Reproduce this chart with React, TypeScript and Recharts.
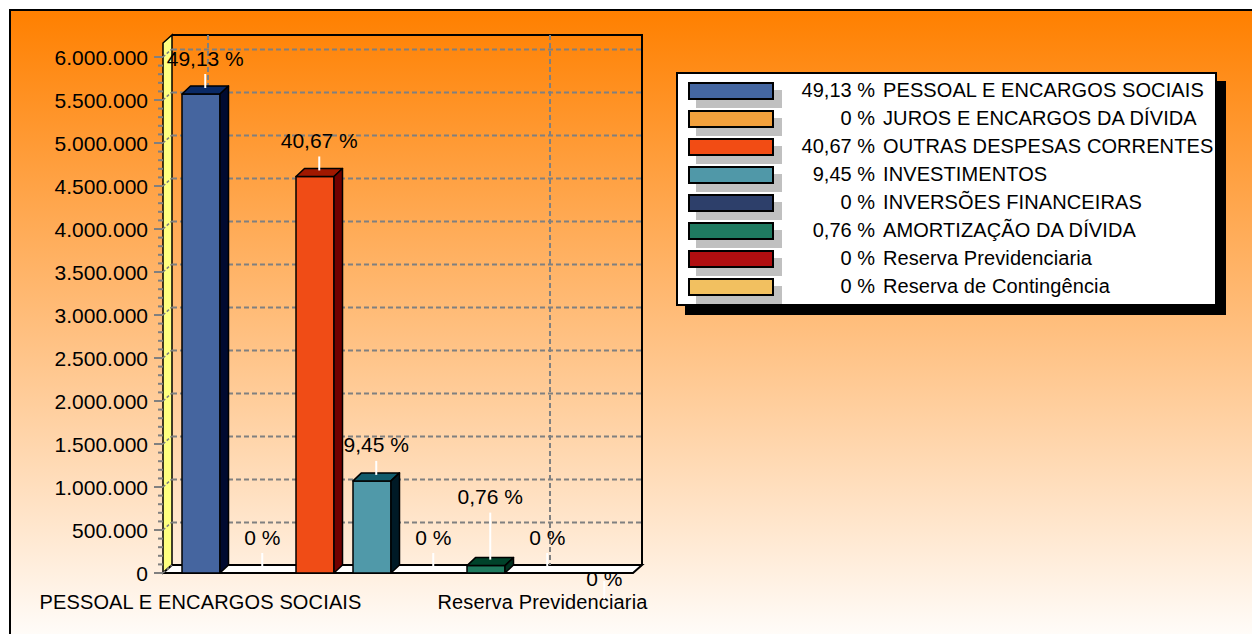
import React from "react";
import { BarChart, Bar, XAxis, YAxis, CartesianGrid, LabelList } from "recharts";

const categories = [
  "PESSOAL E ENCARGOS SOCIAIS",
  "JUROS E ENCARGOS DA DÍVIDA",
  "OUTRAS DESPESAS CORRENTES",
  "INVESTIMENTOS",
  "INVERSÕES FINANCEIRAS",
  "AMORTIZAÇÃO DA DÍVIDA",
  "Reserva Previdenciaria",
  "Reserva de Contingência",
];
const values = [5570000, 0, 4611000, 1071000, 0, 86000, 0, 0];
const percents = [49.13, 0, 40.67, 9.45, 0, 0.76, 0, 0];
const yTicks = [
  0, 500000, 1000000, 1500000, 2000000, 2500000, 3000000,
  3500000, 4000000, 4500000, 5000000, 5500000, 6000000,
];

const legendColors = ["#4466A0", "#F2A03C", "#F24C14", "#5098A8", "#2D3F6A", "#1F7A60", "#B00E10", "#F2C060"];
const frontColors = ["#45659F", "#F2A03C", "#F04C16", "#5099A9", "#2D3F6A", "#1F7A5E", "#B00E10", "#F2C060"];
const topColors = ["#0A2A66", "#A06010", "#A01800", "#125C6C", "#101A38", "#00422A", "#600000", "#A08020"];
const sideColors = ["#000A30", "#603000", "#700000", "#001A26", "#000820", "#00301E", "#400000", "#604810"];

// layout
const W = 1252;
const H = 634;
const PLOT_LEFT = 172;
const PLOT_RIGHT = 628;
const PLOT_TOP = 57;
const PLOT_BOTTOM = 573;
const WALL_X = 163; // front edge of left wall
const DEPTH_X = 9;
const DEPTH_Y = 8;
const WALL_TOP = 35;
const BAR_DX = 8.5;
const BAR_DY = 8;
const FONT = "'Liberation Sans', Arial, sans-serif";

const minorTicks = yTicks
  .slice(0, -1)
  .flatMap((t, i) => [1, 2, 3, 4].map((k) => t + (k * (yTicks[i + 1] - t)) / 5));
const allTicks = [...yTicks, ...minorTicks].sort((a, b) => a - b);

const data = categories.map((name, i) => ({ name, value: values[i], idx: i }));

const fmtNum = (v: number) => String(Math.round(v)).replace(/\B(?=(\d{3})+(?!\d))/g, ".");
const fmtPct = (p: number) => (p === 0 ? "0" : p.toFixed(2).replace(".", ","));

function YTick(p: any) {
  const v = p.payload.value;
  const y = p.y;
  if (!yTicks.includes(v)) {
    return <line x1={WALL_X - 5} x2={WALL_X} y1={y} y2={y} stroke="#808080" strokeWidth={2} />;
  }
  return (
    <g>
      <line x1={WALL_X - 9} x2={WALL_X} y1={y} y2={y} stroke="#808080" strokeWidth={2} />
      <line x1={WALL_X} y1={y} x2={WALL_X + DEPTH_X} y2={y - DEPTH_Y} stroke="#808080" strokeWidth={1.5} strokeDasharray="3 2" />
      <text x={WALL_X - 15} y={y} dy="0.36em" textAnchor="end" fontSize={21} fontFamily={FONT} fill="#000">
        {fmtNum(v)}
      </text>
    </g>
  );
}

function XTick(p: any) {
  return (
    <text x={p.x} y={p.y} dy={28} textAnchor="middle" fontSize={20} letterSpacing={0.15} fontFamily={FONT} fill="#000">
      {p.payload.value}
    </text>
  );
}

function Bar3D(p: any) {
  const { x, y, width, height } = p;
  const i = p.payload?.idx ?? p.index;
  if (!height || height <= 0) return <g />;
  const dx = BAR_DX;
  const dy = BAR_DY;
  return (
    <g stroke="#000" strokeWidth={1.5} strokeLinejoin="round">
      <rect x={x} y={y} width={width} height={height} fill={frontColors[i]} />
      <polygon
        points={`${x},${y} ${x + dx},${y - dy} ${x + width + dx},${y - dy} ${x + width},${y}`}
        fill={topColors[i]}
      />
      <polygon
        points={`${x + width},${y} ${x + width + dx},${y - dy} ${x + width + dx},${y + height - dy} ${x + width},${y + height}`}
        fill={sideColors[i]}
      />
    </g>
  );
}

function PctLabel(p: any) {
  const vb = p.viewBox || p;
  const { x, y, width } = vb;
  const i = typeof p.value === "number" ? p.value : p.index;
  const cx = x + width / 2 + BAR_DX / 2;
  const top = y - BAR_DY / 2;
  const txt = `${fmtPct(percents[i])} %`;
  const text = (ty: number) => (
    <text x={cx} y={ty} dy="0.36em" textAnchor="middle" fontSize={21} fontFamily={FONT} fill="#000">
      {txt}
    </text>
  );
  if (i === categories.length - 1) {
    // last label is dropped below the floor
    return (
      <g>
        <line x1={cx} x2={cx} y1={top + 12} y2={top + 30} stroke="#fff" strokeWidth={2} />
        {text(top + 9)}
      </g>
    );
  }
  const lift = i === 5 ? 63 : 30;
  return (
    <g>
      <line x1={cx} x2={cx} y1={top - 2} y2={top - lift + 14} stroke="#fff" strokeWidth={2} />
      {text(top - lift - 2)}
    </g>
  );
}

function HGrid(p: any) {
  const { x, width, y1 } = p;
  return (
    <line
      x1={x}
      x2={x + width + DEPTH_X + 5}
      y1={y1 - 7.5}
      y2={y1 - 7.5}
      stroke="#808080"
      strokeWidth={2}
      strokeDasharray="5 3"
    />
  );
}

function VGrid(p: any) {
  const { x, width, x1 } = p;
  if (Math.abs(x1 - x) < 1 || Math.abs(x1 - (x + width)) < 1) return <g />;
  const bw = width / categories.length;
  const k = Math.floor((x1 - x) / bw + 0.01);
  const cx = x + (k + 0.5) * bw + 7.5;
  return (
    <line
      x1={cx}
      x2={cx}
      y1={WALL_TOP}
      y2={PLOT_BOTTOM - DEPTH_Y}
      stroke="#808080"
      strokeWidth={2}
      strokeDasharray="5 3"
    />
  );
}

function Walls() {
  const bx = DEPTH_X;
  const by = DEPTH_Y;
  const frontRight = PLOT_RIGHT + 5;
  return (
    <svg width={W} height={H} style={{ position: "absolute", left: 0, top: 0 }}>
      {/* back wall outline */}
      <polyline
        points={`${WALL_X + bx},${WALL_TOP} ${frontRight + bx},${WALL_TOP} ${frontRight + bx},${PLOT_BOTTOM - by}`}
        fill="none"
        stroke="#000"
        strokeWidth={2}
      />
      {/* left wall */}
      <polygon
        points={`${WALL_X},${PLOT_BOTTOM} ${WALL_X + bx},${PLOT_BOTTOM - by} ${WALL_X + bx},${WALL_TOP} ${WALL_X},${WALL_TOP + by}`}
        fill="#FFFF80"
        stroke="#000"
        strokeWidth={1.5}
      />
      {/* floor */}
      <polygon
        points={`${WALL_X},${PLOT_BOTTOM} ${WALL_X + bx},${PLOT_BOTTOM - by} ${frontRight + bx},${PLOT_BOTTOM - by} ${frontRight},${PLOT_BOTTOM}`}
        fill="#FFFFFF"
        stroke="#000"
        strokeWidth={2}
      />
    </svg>
  );
}

function LegendBox() {
  return (
    <div
      style={{
        position: "absolute",
        left: 676,
        top: 72,
        width: 541,
        height: 234,
        boxSizing: "border-box",
        background: "#fff",
        border: "2px solid #000",
        boxShadow: "9px 9px 0 #000",
        fontFamily: FONT,
        fontSize: 20,
        color: "#000",
      }}
    >
      {categories.map((c, i) => (
        <div key={c} style={{ position: "absolute", left: 0, top: 2 + i * 28, height: 28, width: "100%" }}>
          <div
            style={{
              position: "absolute",
              left: 10,
              top: 6,
              width: 86,
              height: 18,
              boxSizing: "border-box",
              background: legendColors[i],
              border: "2px solid #000",
              boxShadow: "8px 8px 0 #C0C0C0",
            }}
          />
          <span
            style={{ position: "absolute", left: 100, width: 97, textAlign: "right", lineHeight: "28px", whiteSpace: "nowrap" }}
          >
            {fmtPct(percents[i])} %
          </span>
          <span style={{ position: "absolute", left: 205, lineHeight: "28px", whiteSpace: "nowrap", letterSpacing: 0.1 }}>
            {c}
          </span>
        </div>
      ))}
    </div>
  );
}

export default function App() {
  return (
    <div style={{ position: "absolute", left: 0, top: 0, width: W, height: H, overflow: "hidden", background: "#fff" }}>
      <div
        style={{
          position: "absolute",
          left: 9,
          top: 9,
          width: W + 40,
          height: 640,
          borderTop: "2px solid #000",
          borderLeft: "2px solid #000",
          background: "linear-gradient(#FF8000, #FFFFFF)",
        }}
      />
      <Walls />
      <div style={{ position: "absolute", left: 0, top: 0 }}>
        <BarChart
          width={W}
          height={H}
          data={data}
          margin={{ top: PLOT_TOP, right: W - PLOT_RIGHT, bottom: H - PLOT_BOTTOM - 40, left: PLOT_LEFT - 60 }}
        >
          <CartesianGrid horizontalValues={yTicks.slice(1)} horizontal={HGrid} vertical={VGrid} />
          <XAxis dataKey="name" interval={5} tickLine={false} axisLine={false} height={40} tick={XTick} />
          <YAxis
            domain={[0, 6000000]}
            ticks={allTicks}
            interval={0}
            width={60}
            tickLine={false}
            axisLine={false}
            tick={YTick}
          />
          <Bar dataKey="value" barSize={38} shape={Bar3D} isAnimationActive={false}>
            <LabelList dataKey="idx" content={PctLabel} />
          </Bar>
        </BarChart>
      </div>
      <LegendBox />
    </div>
  );
}
